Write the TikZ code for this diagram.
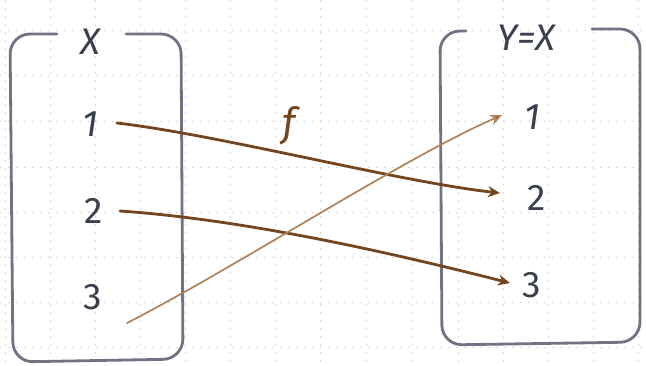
\documentclass[tikz,border=0pt]{standalone}
\usepackage{fontspec}
\setmainfont{Fira Sans}
\usetikzlibrary{arrows.meta}
\definecolor{boxc}{RGB}{112,116,130}
\definecolor{inkc}{RGB}{58,64,78}
\definecolor{arrc}{RGB}{115,70,32}
\definecolor{arrl}{RGB}{176,130,88}
\definecolor{gridc}{RGB}{215,215,215}
\tikzset{
  boxline/.style={draw=boxc,line width=2.8pt,line cap=round,rounded corners=20pt},
  lab/.style={text=inkc,font=\fontsize{37}{37}\selectfont,inner sep=1pt},
  mapdark/.style={draw=arrc,line width=2.8pt,line cap=round,-{Stealth[length=12pt,width=11pt]}},
  maplight/.style={draw=arrl,line width=1.7pt,line cap=round,-{Stealth[length=12pt,width=11pt,fill=arrc]}},
  gridline/.style={draw=gridc,line width=0.7pt,dash pattern=on 2pt off 6pt}
}
\begin{document}
\begin{tikzpicture}[x=1pt,y=-1pt]
\useasboundingbox[fill=white] (0,0) rectangle (646,365);
% grid
\foreach \gx in {5,50,95,140,185,230,275,320,366,412,458,503,548,593,638}
  \draw[gridline] (\gx,0) -- (\gx,365);
\foreach \gy in {30,75,121,167,212,257,302,347}
  \draw[gridline] (0,\gy) -- (646,\gy);
% boxes
\draw[boxline] (57,34) -- (10,34) -- (13,362) -- (183,359) -- (181,34) -- (126,34);
\draw[boxline] (466,31) -- (440,31) -- (442,345) -- (640,342) -- (640,29) -- (592,29);
% labels
\node[lab] (X) at (91,42) {\textit{X}};
\node[lab] (Y) at (527,38) {\textit{Y=X}};
\node[lab] (x1) at (90,124) {\textit{1}};
\node[lab] (x2) at (94,211) {2};
\node[lab] (x3) at (93,297) {3};
\node[lab] (y1) at (532,117) {\textit{1}};
\node[lab] (y2) at (537,198) {2};
\node[lab] (y3) at (532,285) {3};
\node[lab,text=arrc,font=\fontsize{40}{40}\selectfont] (f) at (292,126) {\textit{f}};
% arrows
\draw[mapdark] ([shift={(27,-1)}]x1.center) .. controls (220,135) and (400,182) .. ([shift={(-37,-5)}]y2.center);
\draw[mapdark] ([shift={(26,0)}]x2.center) .. controls (250,220) and (400,255) .. ([shift={(-22,-2)}]y3.center);
\draw[maplight] ([shift={(34,26)}]x3.center) .. controls (240,265) and (400,160) .. ([shift={(-30,-2)}]y1.center);
\end{tikzpicture}
\end{document}
